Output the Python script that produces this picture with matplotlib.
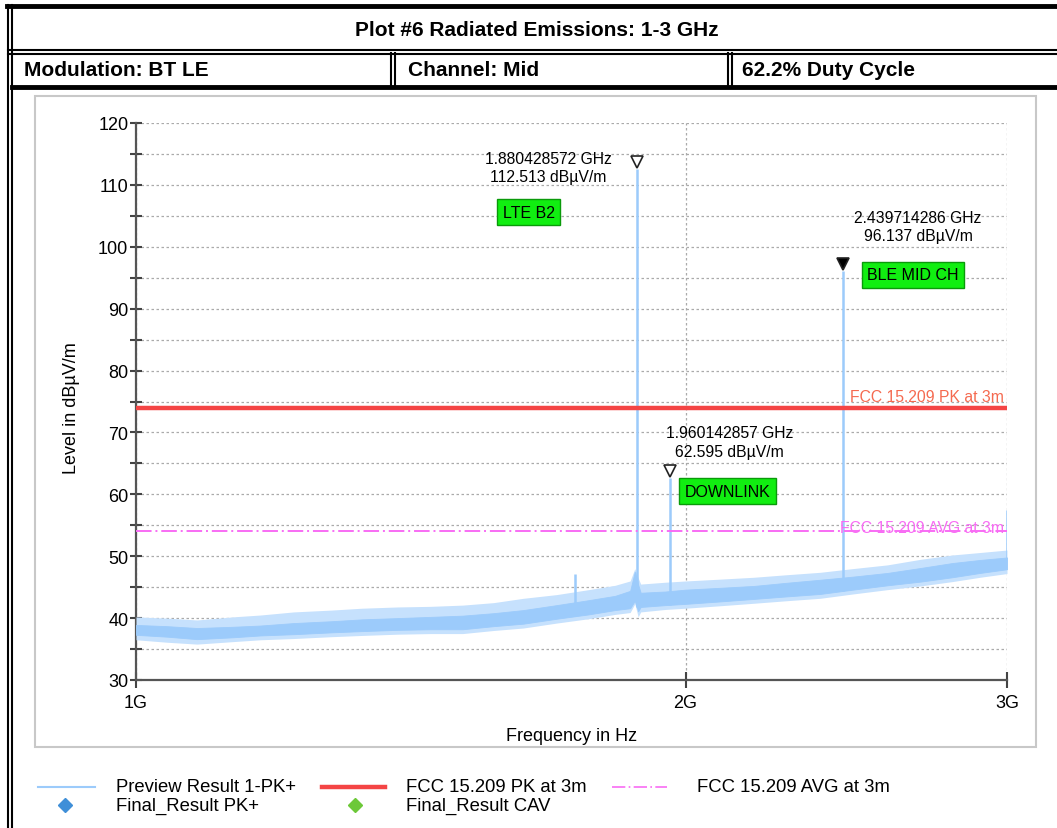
import matplotlib
matplotlib.use("Agg")
import matplotlib.pyplot as plt
import matplotlib.transforms as mtransforms
import numpy as np
from matplotlib.lines import Line2D
from matplotlib.patches import Rectangle
from matplotlib.ticker import MultipleLocator, NullLocator

# spectrum noise floor (GHz, dBuV/m)
floor_freq = [1.00, 1.04, 1.08, 1.13, 1.17, 1.22, 1.28, 1.33, 1.39, 1.45, 1.51, 1.57,
              1.63, 1.70, 1.77, 1.83, 1.865, 1.876, 1.884, 1.89, 1.95, 2.00, 2.09, 2.18,
              2.27, 2.37, 2.47, 2.58, 2.69, 2.80, 2.90, 3.00]
# dense part of the trace
core_upper = [38.9, 38.7, 38.4, 38.6, 38.8, 39.2, 39.5, 39.8, 40.0, 40.2, 40.4, 40.8,
              41.3, 42.1, 42.9, 43.6, 44.4, 47.5, 45.4, 44.1, 44.3, 44.6, 44.9, 45.2,
              45.7, 46.2, 46.7, 47.3, 48.1, 48.9, 49.4, 49.8]
core_lower = [37.3, 37.0, 36.6, 36.9, 37.2, 37.4, 37.7, 37.9, 38.1, 38.2, 38.2, 38.7,
              39.1, 39.9, 40.6, 41.3, 41.6, 42.8, 41.1, 41.8, 42.1, 42.3, 42.7, 43.1,
              43.5, 43.9, 44.6, 45.3, 45.9, 46.6, 47.3, 47.9]
# outer reach of the noise fuzz
fuzz_upper = [40.2, 40.0, 39.7, 40.2, 40.5, 41.0, 41.3, 41.6, 41.8, 41.9, 42.1, 42.5,
              43.2, 43.8, 44.6, 45.3, 46.0, 48.0, 46.5, 45.5, 45.8, 46.0, 46.3, 46.6,
              47.0, 47.4, 48.0, 48.6, 49.5, 50.2, 50.6, 51.0]
fuzz_lower = [36.5, 36.1, 35.8, 36.2, 36.5, 36.7, 37.0, 37.2, 37.4, 37.5, 37.5, 38.0,
              38.4, 39.2, 39.9, 40.6, 40.9, 42.3, 40.2, 41.0, 41.4, 41.6, 42.0, 42.4,
              42.8, 43.2, 43.9, 44.6, 45.2, 45.9, 46.6, 47.2]

# emission peaks
peak_freq = [1.7404, 1.880428572, 1.960142857, 2.439714286, 3.0]
peak_level = [47.1, 112.513, 62.595, 96.137, 57.5]

pk_limit = 74.0
avg_limit = 54.0

W, H = 1057, 829
fig = plt.figure(figsize=(W / 100, H / 100), dpi=100)
plt.rcParams['font.family'] = ['Liberation Sans', 'DejaVu Sans']


def fx(x):
    return x / W


def fy(y):
    return 1 - y / H


def hline(y, x0, x1, lw=1.5):
    fig.add_artist(Line2D([fx(x0), fx(x1)], [fy(y), fy(y)], color='black', lw=lw))


def vline(x, y0, y1, lw=1.5):
    fig.add_artist(Line2D([fx(x), fx(x)], [fy(y0), fy(y1)], color='black', lw=lw))


# table frame
hline(7, 7, W, lw=3.5)
vline(8, 6, H)
vline(12, 6, H)
hline(51, 8, W)
hline(54.5, 8, W)
hline(88, 12, W, lw=3.5)
for x in (391, 395, 728, 732):
    vline(x, 54, 88)

narrow = ['Liberation Sans Narrow', 'Liberation Sans', 'DejaVu Sans']
fig.text(fx(537), fy(31), 'Plot #6 Radiated Emissions: 1-3 GHz', ha='center', va='center',
         fontsize=15, fontweight='bold', family=narrow)
for x, s in [(24, 'Modulation: BT LE'), (408, 'Channel: Mid'), (742, '62.2% Duty Cycle')]:
    fig.text(fx(x), fy(71), s, ha='left', va='center', fontsize=15, fontweight='bold',
             family=narrow)

# chart panel, behind the axes
fig.patches.append(Rectangle((fx(35), fy(748)), fx(1036) - fx(35), fy(97) - fy(748),
                             transform=fig.transFigure, figure=fig, zorder=-5,
                             facecolor='white', edgecolor='#c8c8c8', lw=1.5))

ax = fig.add_axes([fx(136), fy(681), fx(1007) - fx(136), fy(124) - fy(681)])
ax.patch.set_alpha(0)
ax.set_xscale('log')
ax.set_xlim(1.0, 3.0)
ax.set_ylim(30, 120)

blue = '#9ccbfb'
ax.fill_between(floor_freq, fuzz_lower, fuzz_upper, color='#c6e1fd', lw=0, zorder=3)
ax.fill_between(floor_freq, core_lower, core_upper, color=blue, lw=0.6, zorder=3)
peak_base = np.interp(peak_freq, floor_freq, core_lower)
ax.vlines(peak_freq, peak_base, peak_level, color=blue, lw=1.8, zorder=3)

ax.axhline(pk_limit, color='#f44545', lw=3.2, zorder=4)
ax.axhline(avg_limit, color='#f86cf4', lw=1.4, ls=(0, (8, 2, 1, 2)), zorder=4)
ax.text(2.99, pk_limit + 0.6, 'FCC 15.209 PK at 3m', color='#f56a50', fontsize=11.3,
        ha='right', va='bottom', zorder=5)
ax.text(2.99, avg_limit - 0.6, 'FCC 15.209 AVG at 3m', color='#f86cf4', fontsize=11.3,
        ha='right', va='bottom', zorder=5)

# axes styling
for s in ('top', 'right'):
    ax.spines[s].set_visible(False)
for s in ('left', 'bottom'):
    ax.spines[s].set_color('#555555')
    ax.spines[s].set_linewidth(1.6)
ax.yaxis.set_major_locator(MultipleLocator(10))
ax.yaxis.set_minor_locator(MultipleLocator(5))
ax.set_xticks([1, 2, 3])
ax.set_xticklabels(['1G', '2G', '3G'])
ax.xaxis.set_minor_locator(NullLocator())
ax.tick_params(axis='y', which='both', direction='inout', length=9, width=1.5,
               color='#444444', labelsize=13, pad=1)
ax.tick_params(axis='x', which='major', direction='inout', length=12, width=1.5,
               color='#444444', labelsize=13, pad=4)
ax.grid(True, which='both', axis='y', color='#aaaaaa', lw=0.9, ls=(0, (2, 2)))
ax.grid(True, which='major', axis='x', color='#aaaaaa', lw=0.9, ls=(0, (2, 2)))
ax.set_ylabel('Level in dBµV/m', fontsize=13)
ax.yaxis.set_label_coords(-0.064, 0.49)
ax.set_xlabel('Frequency in Hz', fontsize=13)
ax.xaxis.set_label_coords(0.5, -0.085)

# markers and their readouts (triangle sits just above the peak)
marker_tr = mtransforms.offset_copy(ax.transData, fig=fig, x=0, y=7, units='dots')
markers = [
    (peak_freq[1], peak_level[1], 'none', '1.880428572 GHz\n112.513 dBµV/m', (-88, 2), 'LTE B2', (-108, -43)),
    (peak_freq[3], peak_level[3], 'black', '2.439714286 GHz\n96.137 dBµV/m', (75, 44), 'BLE MID CH', (70, -4)),
    (peak_freq[2], peak_level[2], 'none', '1.960142857 GHz\n62.595 dBµV/m', (60, 36), 'DOWNLINK', (58, -13)),
]
for f, lv, fc, txt, off, tag, toff in markers:
    ax.plot([f], [lv], marker='v', ms=9, mfc=fc, mec='#222222', mew=1.2, ls='none',
            zorder=6, transform=marker_tr)
    ax.annotate(txt, (f, lv), xytext=off, textcoords='offset pixels', ha='center',
                va='center', fontsize=11.3, linespacing=1.3, zorder=6)
    ax.annotate(tag, (f, lv), xytext=toff, textcoords='offset pixels', ha='center',
                va='center', fontsize=11.5, zorder=6,
                bbox=dict(boxstyle='square,pad=0.35', fc='#11ee11', ec='#0a9a0a', lw=1))

# legend
fig.add_artist(Line2D([fx(38), fx(95)], [fy(788), fy(788)], color=blue, lw=1.5))
fig.add_artist(Line2D([fx(322), fx(385)], [fy(788), fy(788)], color='#f44545', lw=3.2))
fig.add_artist(Line2D([fx(612), fx(667)], [fy(788), fy(788)], color='#f86cf4', lw=1.2,
                      ls=(0, (8, 2, 1, 2))))
fig.add_artist(Line2D([fx(65)], [fy(806)], marker='D', ms=7, color='#3f8fd8', ls='none'))
fig.add_artist(Line2D([fx(355)], [fy(806)], marker='D', ms=7, color='#6cc838', ls='none'))
for x, y, s in [(116, 788, 'Preview Result 1-PK+'), (406, 788, 'FCC 15.209 PK at 3m'),
                (697, 788, 'FCC 15.209 AVG at 3m'), (116, 806, 'Final_Result PK+'),
                (406, 806, 'Final_Result CAV')]:
    fig.text(fx(x), fy(y), s, ha='left', va='center', fontsize=13.3)

fig.savefig('out.png', dpi=100)
